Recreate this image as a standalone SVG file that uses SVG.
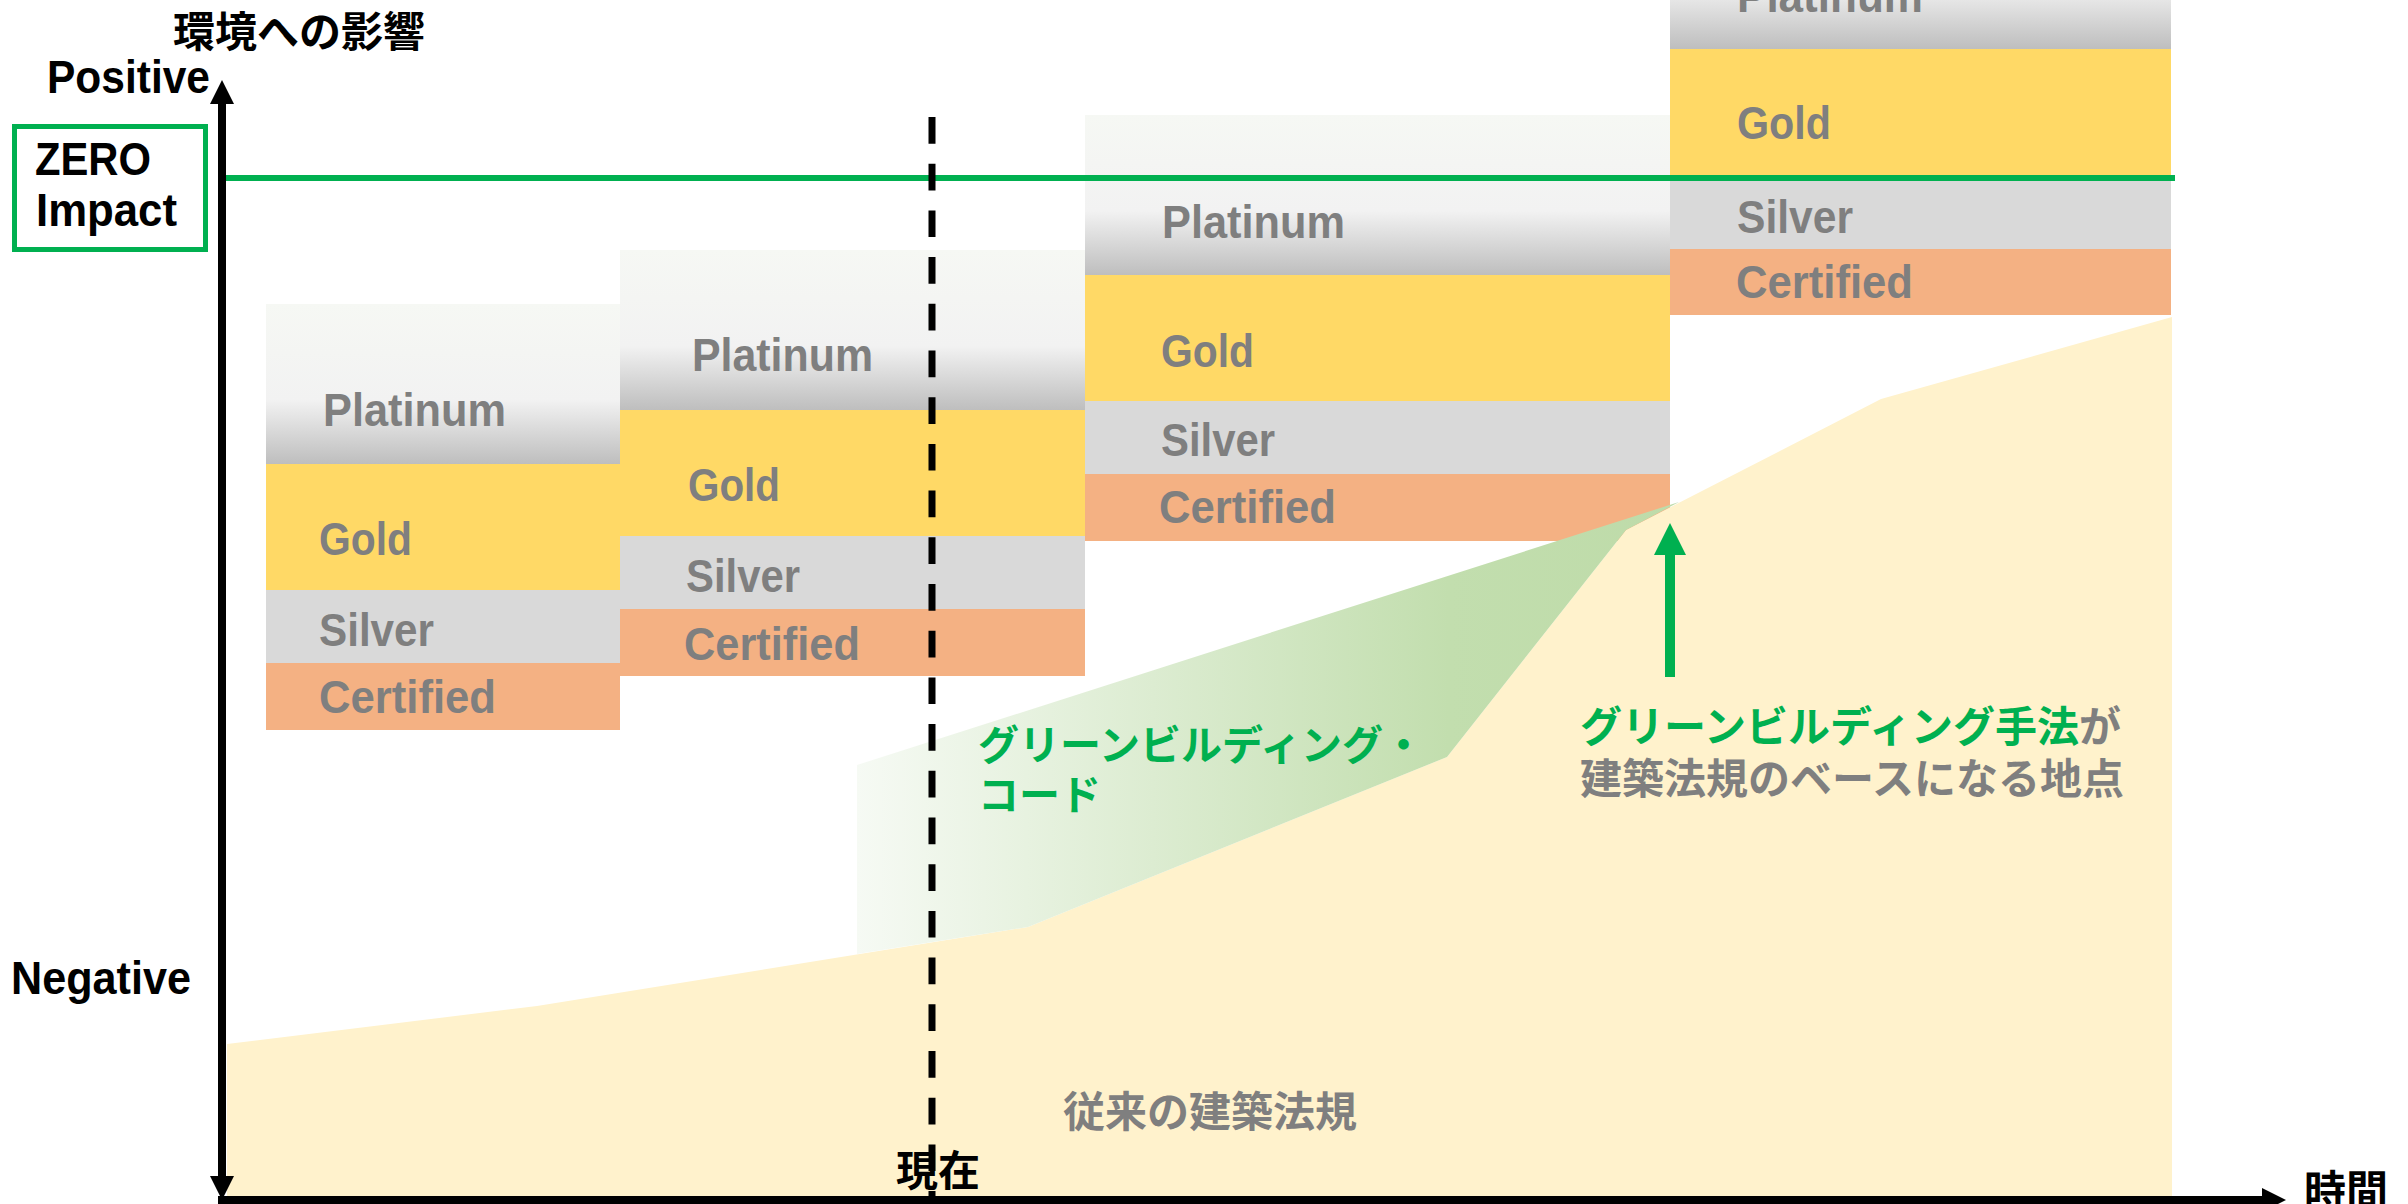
<svg xmlns="http://www.w3.org/2000/svg" width="2408" height="1204" viewBox="0 0 2408 1204">
  <style>
    .lat { font-family: "Liberation Sans", Arial, sans-serif; font-weight: bold; }
    .jp { font-family: "Noto Sans CJK JP", "Noto Sans", sans-serif; font-weight: bold; }
    .lvl { font-size: 47px; fill: #7F7F7F; }
    .ax { font-size: 46px; fill: #000000; }
    .plat { fill: url(#platGrad); }
    .gold { fill: #FFD966; }
    .silv { fill: #D9D9D9; }
    .cert { fill: #F4B183; }
  </style>
  <defs>
    <linearGradient id="platGrad" x1="0" y1="0" x2="0" y2="1">
      <stop offset="0" stop-color="#F6F8F4"/>
      <stop offset="0.6" stop-color="#F2F2F2"/>
      <stop offset="1" stop-color="#BEBEBE"/>
    </linearGradient>
    <linearGradient id="greenGrad" gradientUnits="userSpaceOnUse" x1="857" y1="0" x2="1679" y2="0">
      <stop offset="0" stop-color="#F6FAF4"/>
      <stop offset="0.72" stop-color="#C2DEAE"/>
      <stop offset="1" stop-color="#BEDBA9"/>
    </linearGradient>
    <marker id="axHead" markerUnits="userSpaceOnUse" viewBox="0 0 24 24" markerWidth="24" markerHeight="24" refX="0" refY="12" orient="auto-start-reverse">
      <path d="M0,0 L24,12 L0,24 Z" fill="#000000"/>
    </marker>
    <marker id="greenHead" markerUnits="userSpaceOnUse" viewBox="0 0 32 32" markerWidth="32" markerHeight="32" refX="0" refY="16" orient="auto">
      <path d="M0,0 L32,16 L0,32 Z" fill="#00B050"/>
    </marker>
  </defs>

  <rect width="2408" height="1204" fill="#FFFFFF"/>

  <!-- Level blocks -->
  <g id="block1">
    <rect class="plat" x="266" y="304" width="354" height="160"/>
    <rect class="gold" x="266" y="464" width="354" height="126"/>
    <rect class="silv" x="266" y="590" width="354" height="73"/>
    <rect class="cert" x="266" y="663" width="354" height="67"/>
    <text class="lat lvl" x="323" y="426" textLength="183" lengthAdjust="spacingAndGlyphs">Platinum</text>
    <text class="lat lvl" x="319" y="555" textLength="93" lengthAdjust="spacingAndGlyphs">Gold</text>
    <text class="lat lvl" x="319" y="646" textLength="115" lengthAdjust="spacingAndGlyphs">Silver</text>
    <text class="lat lvl" x="319" y="713" textLength="177" lengthAdjust="spacingAndGlyphs">Certified</text>
  </g>
  <g id="block2">
    <rect class="plat" x="620" y="250" width="465" height="160"/>
    <rect class="gold" x="620" y="410" width="465" height="126"/>
    <rect class="silv" x="620" y="536" width="465" height="73"/>
    <rect class="cert" x="620" y="609" width="465" height="67"/>
    <text class="lat lvl" x="692" y="371" textLength="181" lengthAdjust="spacingAndGlyphs">Platinum</text>
    <text class="lat lvl" x="688" y="501" textLength="92" lengthAdjust="spacingAndGlyphs">Gold</text>
    <text class="lat lvl" x="686" y="592" textLength="114" lengthAdjust="spacingAndGlyphs">Silver</text>
    <text class="lat lvl" x="684" y="660" textLength="176" lengthAdjust="spacingAndGlyphs">Certified</text>
  </g>
  <g id="block3">
    <rect class="plat" x="1085" y="115" width="585" height="160"/>
    <rect class="gold" x="1085" y="275" width="585" height="126"/>
    <rect class="silv" x="1085" y="401" width="585" height="73"/>
    <rect class="cert" x="1085" y="474" width="585" height="67"/>
    <text class="lat lvl" x="1162" y="238" textLength="183" lengthAdjust="spacingAndGlyphs">Platinum</text>
    <text class="lat lvl" x="1161" y="367" textLength="93" lengthAdjust="spacingAndGlyphs">Gold</text>
    <text class="lat lvl" x="1161" y="456" textLength="114" lengthAdjust="spacingAndGlyphs">Silver</text>
    <text class="lat lvl" x="1159" y="523" textLength="177" lengthAdjust="spacingAndGlyphs">Certified</text>
  </g>
  <g id="block4">
    <rect class="plat" x="1670" y="-111" width="501" height="160"/>
    <rect class="gold" x="1670" y="49" width="501" height="126"/>
    <rect class="silv" x="1670" y="175" width="501" height="74"/>
    <rect class="cert" x="1670" y="249" width="501" height="66"/>
    <text class="lat lvl" x="1737" y="12" textLength="186" lengthAdjust="spacingAndGlyphs">Platinum</text>
    <text class="lat lvl" x="1737" y="139" textLength="94" lengthAdjust="spacingAndGlyphs">Gold</text>
    <text class="lat lvl" x="1737" y="233" textLength="116" lengthAdjust="spacingAndGlyphs">Silver</text>
    <text class="lat lvl" x="1736" y="298" textLength="177" lengthAdjust="spacingAndGlyphs">Certified</text>
  </g>

  <!-- Conventional building code area -->
  <g id="conventional">
    <polygon points="227,1044 537,1006 1028,927 1447,757 1626,530 1881,399 2172,317 2172,1197 227,1197" fill="#FFF2CC"/>
    <text class="jp" x="1063" y="1127" font-size="42" fill="#7F7F7F">従来の建築法規</text>
  </g>

  <!-- Green building code band -->
  <g id="greencode">
    <polygon points="857,765 1679,502 1626,530 1447,757 1028,927 857,954" fill="url(#greenGrad)"/>
    <text class="jp" font-size="41" fill="#00B050"><tspan x="978" y="760">グリーンビルディング・</tspan><tspan x="978" y="810">コード</tspan></text>
  </g>

  <!-- Zero impact -->
  <g id="zero">
    <rect x="14.5" y="126.5" width="191" height="123" fill="#FFFFFF" stroke="#00B050" stroke-width="5"/>
    <text class="lat ax" x="35" y="175" textLength="116" lengthAdjust="spacingAndGlyphs">ZERO</text>
    <text class="lat ax" x="36" y="226" textLength="141" lengthAdjust="spacingAndGlyphs">Impact</text>
  </g>

  <g id="point-label">
    <text class="jp" font-size="42" fill="#7F7F7F"><tspan x="1580" y="742"><tspan fill="#00B050">グリーンビルディング手法</tspan>が</tspan><tspan x="1580" y="794">建築法規のベースになる地点</tspan></text>
  </g>

  <!-- Connectors / axes -->
  <g id="connectors">
    <line x1="226" y1="178" x2="2175" y2="178" stroke="#00B050" stroke-width="6"/>
    <line x1="932" y1="117" x2="932" y2="1197" stroke="#000000" stroke-width="7" stroke-dasharray="26.7 20"/>
    <line x1="1670" y1="677" x2="1670" y2="555" stroke="#00B050" stroke-width="10" marker-end="url(#greenHead)"/>
    <line x1="222" y1="104" x2="222" y2="1176" stroke="#000000" stroke-width="8" marker-start="url(#axHead)" marker-end="url(#axHead)"/>
    <line x1="218" y1="1200" x2="2262" y2="1200" stroke="#000000" stroke-width="8" marker-end="url(#axHead)"/>
  </g>

  <!-- Axis labels -->
  <g id="axis-labels">
    <text class="jp" x="173" y="47" font-size="42" fill="#000000">環境への影響</text>
    <text class="lat ax" x="47" y="93" textLength="163" lengthAdjust="spacingAndGlyphs">Positive</text>
    <text class="lat ax" x="11" y="994" textLength="180" lengthAdjust="spacingAndGlyphs">Negative</text>
    <text class="jp" x="896" y="1186" font-size="42" fill="#000000">現在</text>
    <text class="jp" x="2304" y="1206" font-size="42" fill="#000000">時間</text>
  </g>
</svg>
